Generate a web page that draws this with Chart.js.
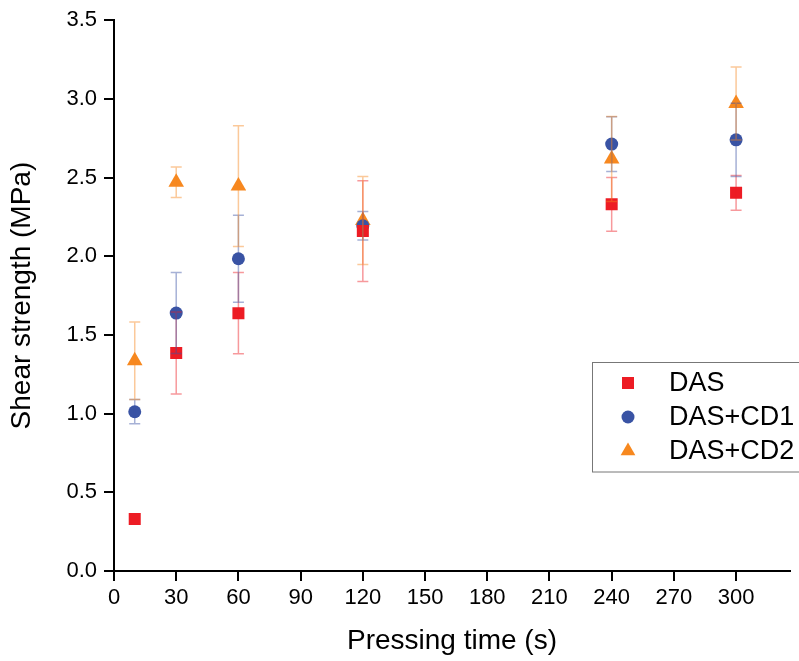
<!DOCTYPE html>
<html>
<head>
<meta charset="utf-8">
<script src="https://cdn.jsdelivr.net/npm/chart.js@4/dist/chart.umd.min.js"></script>
<style>
  html, body { margin: 0; padding: 0; background: #fff; overflow: hidden; }
  canvas { display: block; }
</style>
</head>
<body>
<canvas id="chart" width="799" height="661"></canvas>
<script>
// Shear strength vs pressing time

const pressingTime = [10, 30, 60, 120, 240, 300];

const dasMean = [0.33, 1.385, 1.638, 2.16, 2.33, 2.403];
const dasErr = [0, 0.26, 0.258, 0.32, 0.171, 0.11];

const cd1Mean = [1.012, 1.639, 1.984, 2.194, 2.713, 2.74];
const cd1Err = [0.077, 0.257, 0.277, 0.09, 0.174, 0.233];

const cd2Mean = [1.336, 2.47, 2.446, 2.227, 2.618, 2.97];
const cd2Err = [0.247, 0.097, 0.384, 0.28, 0.27, 0.232];

const xTicks = [0, 30, 60, 90, 120, 150, 180, 210, 240, 270, 300];
const yTicks = [0, 0.5, 1.0, 1.5, 2.0, 2.5, 3.0, 3.5];

const COLORS = {
    das: 'rgb(237, 28, 36)',
    cd1: 'rgb(57, 83, 164)',
    cd2: 'rgb(247, 136, 31)'
};
const ERR_COLORS = {
    das: 'rgba(237, 28, 36, 0.45)',
    cd1: 'rgba(57, 83, 164, 0.45)',
    cd2: 'rgba(247, 136, 31, 0.45)'
};

const FONT = '"Liberation Sans", Arial, sans-serif';
Chart.defaults.font.family = FONT;
Chart.defaults.color = '#000';

const toPoints = (ys) => pressingTime.map((x, i) => ({ x: x, y: ys[i] }));

const errors = [dasErr, cd1Err, cd2Err];
const errColors = [ERR_COLORS.das, ERR_COLORS.cd1, ERR_COLORS.cd2];

// error bars drawn through the scales
const errorBarPlugin = {
    id: 'errorBars',
    afterDatasetsDraw(chart) {
        const ctx = chart.ctx;
        const xs = chart.scales.x;
        const ys = chart.scales.y;
        ctx.save();
        ctx.lineWidth = 1.5;
        chart.data.datasets.forEach((ds, i) => {
            ctx.strokeStyle = errColors[i];
            ds.data.forEach((p, j) => {
                const e = errors[i][j];
                if (!e) return;
                const px = xs.getPixelForValue(p.x);
                const top = ys.getPixelForValue(p.y + e);
                const bot = ys.getPixelForValue(p.y - e);
                ctx.beginPath();
                ctx.moveTo(px, top);
                ctx.lineTo(px, bot);
                ctx.moveTo(px - 5.5, top);
                ctx.lineTo(px + 5.5, top);
                ctx.moveTo(px - 5.5, bot);
                ctx.lineTo(px + 5.5, bot);
                ctx.stroke();
            });
        });
        ctx.restore();
    }
};

// boxed legend inside the plot, cut at the right edge like the original
const boxLegendPlugin = {
    id: 'boxLegend',
    afterDraw(chart) {
        const ctx = chart.ctx;
        const left = 592.5, top = 362.5;
        ctx.save();
        ctx.strokeStyle = '#777';
        ctx.lineWidth = 1;
        ctx.strokeRect(left, top, 260, 109.5);
        const rows = [383, 417, 451];
        ctx.font = '27px ' + FONT;
        ctx.textBaseline = 'middle';
        chart.data.datasets.forEach((ds, i) => {
            const y = rows[i];
            const x = 628;
            ctx.fillStyle = ds.backgroundColor;
            ctx.beginPath();
            if (ds.pointStyle === 'rect') {
                ctx.rect(x - 6, y - 6, 12, 12);
            } else if (ds.pointStyle === 'circle') {
                ctx.arc(x, y, 6.5, 0, Math.PI * 2);
            } else {
                const r = 8.5;
                ctx.moveTo(x, y - r);
                ctx.lineTo(x + r * 0.866, y + r / 2);
                ctx.lineTo(x - r * 0.866, y + r / 2);
                ctx.closePath();
            }
            ctx.fill();
            ctx.fillStyle = '#000';
            ctx.fillText(ds.label, 669, y + 1);
        });
        ctx.restore();
    }
};

new Chart(document.getElementById('chart'), {
    type: 'scatter',
    data: {
        datasets: [
            {
                label: 'DAS',
                data: toPoints(dasMean),
                pointStyle: 'rect',
                pointRadius: 8.5,
                backgroundColor: COLORS.das,
                borderColor: COLORS.das,
                borderWidth: 0
            },
            {
                label: 'DAS+CD1',
                data: toPoints(cd1Mean),
                pointStyle: 'circle',
                pointRadius: 6.5,
                backgroundColor: COLORS.cd1,
                borderColor: COLORS.cd1,
                borderWidth: 0
            },
            {
                label: 'DAS+CD2',
                data: toPoints(cd2Mean),
                pointStyle: 'triangle',
                pointRadius: 9,
                backgroundColor: COLORS.cd2,
                borderColor: COLORS.cd2,
                borderWidth: 0
            }
        ]
    },
    options: {
        responsive: false,
        animation: false,
        layout: { padding: { top: 20, right: 0, bottom: 0, left: 0 } },
        plugins: {
            legend: { display: false },
            tooltip: { enabled: false }
        },
        scales: {
            x: {
                type: 'linear',
                min: 0,
                max: 326,
                afterBuildTicks: (scale) => { scale.ticks = xTicks.map(v => ({ value: v })); },
                afterFit: (scale) => { scale.height = 90; },
                grid: { drawOnChartArea: false, drawTicks: true, tickLength: 10, color: '#000', lineWidth: 2 },
                border: { display: true, color: '#000', width: 2 },
                ticks: { font: { size: 22 }, padding: 4, maxRotation: 0 },
                title: { display: true, text: 'Pressing time (s)', font: { size: 28 }, padding: { top: 0, bottom: 3 } }
            },
            y: {
                min: 0,
                max: 3.5,
                afterBuildTicks: (scale) => { scale.ticks = yTicks.map(v => ({ value: v })); },
                afterFit: (scale) => { scale.width = 114; },
                grid: { drawOnChartArea: false, drawTicks: true, tickLength: 10, color: '#000', lineWidth: 2 },
                border: { display: true, color: '#000', width: 2 },
                ticks: { font: { size: 22 }, padding: 7, callback: (v) => v.toFixed(1) },
                title: { display: true, text: 'Shear strength (MPa)', font: { size: 28 }, padding: { top: 5, bottom: 0 } }
            }
        }
    },
    plugins: [errorBarPlugin, boxLegendPlugin]
});
</script>
</body>
</html>
